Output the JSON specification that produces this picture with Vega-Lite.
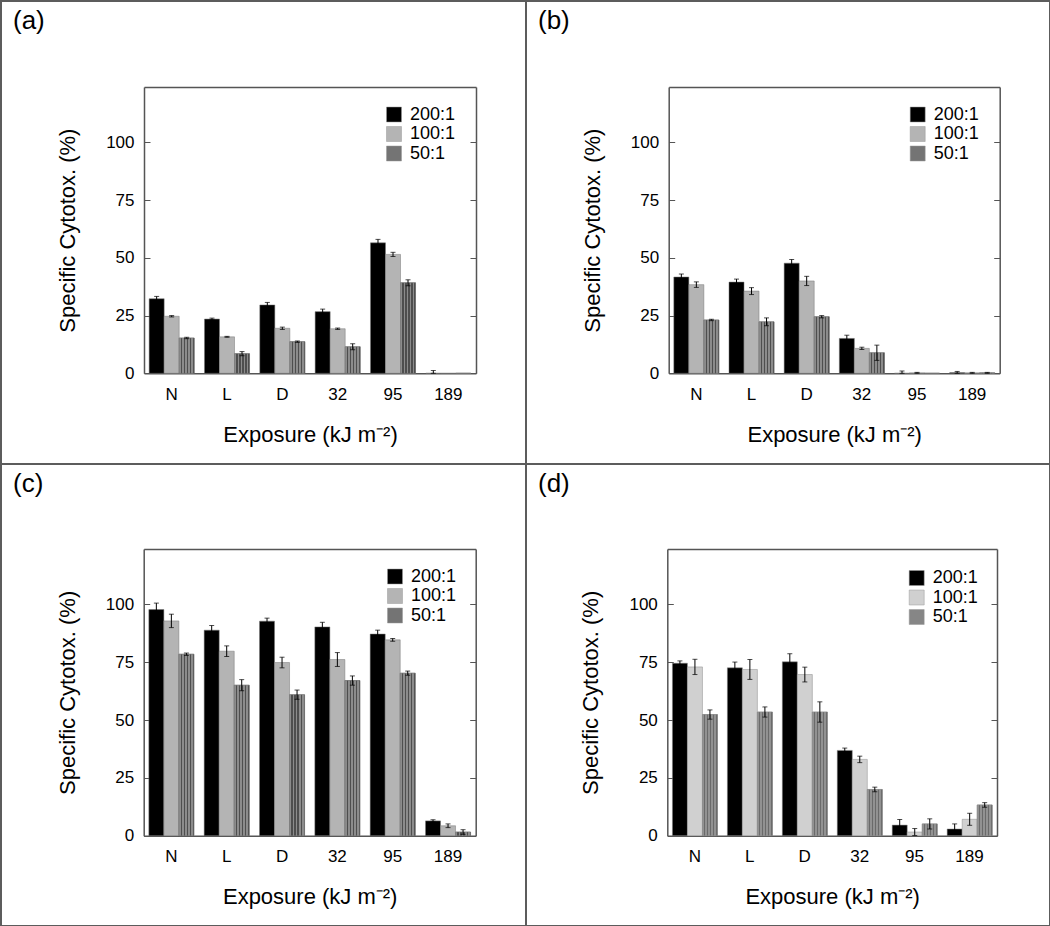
{
  "$schema": "https://vega.github.io/schema/vega-lite/v6.json",
  "padding": 0,
  "columns": 2,
  "spacing": 0,
  "bounds": "flush",
  "resolve": {"scale": {"fill": "independent"}, "legend": {"fill": "independent"}},
  "config": {
    "font": "Liberation Sans",
    "view": {"stroke": "#5c5c5c", "strokeWidth": 2},
    "axis": {"grid": false, "domainColor": "#555555", "domainWidth": 1.5, "tickColor": "#555555", "tickWidth": 1, "labelFontSize": 17, "labelColor": "#000000", "titleFontSize": 22, "titleFontWeight": "normal", "titleColor": "#000000", "labelAngle": 0},
    "title": {"anchor": "start", "frame": "group", "offset": -33, "dx": 12, "fontSize": 26, "fontWeight": "normal", "color": "#000000"},
    "legend": {"title": null, "symbolType": "square", "symbolSize": 225, "labelFontSize": 18, "labelColor": "#000000", "labelOffset": 7, "rowPadding": 1.5, "padding": 0, "symbolStrokeColor": "#999999", "symbolStrokeWidth": 0.5}
  },
  "datasets": {
    "a": [
      {"exposure": "N", "ratio": "200:1", "value": 32.3, "lo": 31.3, "hi": 33.3},
      {"exposure": "N", "ratio": "100:1", "value": 24.7, "lo": 24.4, "hi": 25.0},
      {"exposure": "N", "ratio": "50:1", "value": 15.3, "lo": 15.0, "hi": 15.6},
      {"exposure": "L", "ratio": "200:1", "value": 23.5, "lo": 23.1, "hi": 23.9},
      {"exposure": "L", "ratio": "100:1", "value": 15.8, "lo": 15.6, "hi": 16.0},
      {"exposure": "L", "ratio": "50:1", "value": 8.5, "lo": 7.6, "hi": 9.4},
      {"exposure": "D", "ratio": "200:1", "value": 29.6, "lo": 28.5, "hi": 30.7},
      {"exposure": "D", "ratio": "100:1", "value": 19.5, "lo": 19.0, "hi": 20.0},
      {"exposure": "D", "ratio": "50:1", "value": 13.7, "lo": 13.4, "hi": 14.0},
      {"exposure": "32", "ratio": "200:1", "value": 26.7, "lo": 25.6, "hi": 27.8},
      {"exposure": "32", "ratio": "100:1", "value": 19.3, "lo": 19.0, "hi": 19.6},
      {"exposure": "32", "ratio": "50:1", "value": 11.5, "lo": 10.2, "hi": 12.8},
      {"exposure": "95", "ratio": "200:1", "value": 56.5, "lo": 55.0, "hi": 58.0},
      {"exposure": "95", "ratio": "100:1", "value": 51.5, "lo": 50.6, "hi": 52.4},
      {"exposure": "95", "ratio": "50:1", "value": 39.2, "lo": 37.9, "hi": 40.5},
      {"exposure": "189", "ratio": "200:1", "value": 0.0, "lo": 0.0, "hi": 1.2},
      {"exposure": "189", "ratio": "100:1", "value": 0.0, "lo": null, "hi": null},
      {"exposure": "189", "ratio": "50:1", "value": 0.0, "lo": null, "hi": null}
    ],
    "b": [
      {"exposure": "N", "ratio": "200:1", "value": 41.7, "lo": 40.4, "hi": 43.0},
      {"exposure": "N", "ratio": "100:1", "value": 38.4, "lo": 37.2, "hi": 39.6},
      {"exposure": "N", "ratio": "50:1", "value": 23.1, "lo": 22.8, "hi": 23.4},
      {"exposure": "L", "ratio": "200:1", "value": 39.5, "lo": 38.2, "hi": 40.8},
      {"exposure": "L", "ratio": "100:1", "value": 35.6, "lo": 34.1, "hi": 37.1},
      {"exposure": "L", "ratio": "50:1", "value": 22.3, "lo": 20.6, "hi": 24.0},
      {"exposure": "D", "ratio": "200:1", "value": 47.7, "lo": 46.1, "hi": 49.3},
      {"exposure": "D", "ratio": "100:1", "value": 40.0, "lo": 38.0, "hi": 42.0},
      {"exposure": "D", "ratio": "50:1", "value": 24.5, "lo": 24.0, "hi": 25.0},
      {"exposure": "32", "ratio": "200:1", "value": 15.1, "lo": 13.7, "hi": 16.5},
      {"exposure": "32", "ratio": "100:1", "value": 10.8, "lo": 10.3, "hi": 11.3},
      {"exposure": "32", "ratio": "50:1", "value": 8.9, "lo": 5.6, "hi": 12.2},
      {"exposure": "95", "ratio": "200:1", "value": 0.0, "lo": 0.0, "hi": 1.0},
      {"exposure": "95", "ratio": "100:1", "value": 0.2, "lo": 0.0, "hi": 0.4},
      {"exposure": "95", "ratio": "50:1", "value": 0.0, "lo": null, "hi": null},
      {"exposure": "189", "ratio": "200:1", "value": 0.3, "lo": 0.0, "hi": 0.8},
      {"exposure": "189", "ratio": "100:1", "value": 0.2, "lo": 0.0, "hi": 0.4},
      {"exposure": "189", "ratio": "50:1", "value": 0.2, "lo": 0.0, "hi": 0.4}
    ],
    "c": [
      {"exposure": "N", "ratio": "200:1", "value": 97.8, "lo": 95.0, "hi": 100.6},
      {"exposure": "N", "ratio": "100:1", "value": 92.9, "lo": 90.0, "hi": 95.8},
      {"exposure": "N", "ratio": "50:1", "value": 78.5, "lo": 78.0, "hi": 79.0},
      {"exposure": "L", "ratio": "200:1", "value": 88.9, "lo": 86.9, "hi": 90.9},
      {"exposure": "L", "ratio": "100:1", "value": 79.8, "lo": 77.5, "hi": 82.1},
      {"exposure": "L", "ratio": "50:1", "value": 65.1, "lo": 62.7, "hi": 67.5},
      {"exposure": "D", "ratio": "200:1", "value": 92.8, "lo": 91.5, "hi": 94.1},
      {"exposure": "D", "ratio": "100:1", "value": 74.9, "lo": 72.6, "hi": 77.2},
      {"exposure": "D", "ratio": "50:1", "value": 61.0, "lo": 59.0, "hi": 63.0},
      {"exposure": "32", "ratio": "200:1", "value": 90.3, "lo": 88.3, "hi": 92.3},
      {"exposure": "32", "ratio": "100:1", "value": 76.2, "lo": 73.2, "hi": 79.2},
      {"exposure": "32", "ratio": "50:1", "value": 67.1, "lo": 65.1, "hi": 69.1},
      {"exposure": "95", "ratio": "200:1", "value": 87.2, "lo": 85.5, "hi": 88.9},
      {"exposure": "95", "ratio": "100:1", "value": 84.7, "lo": 84.1, "hi": 85.3},
      {"exposure": "95", "ratio": "50:1", "value": 70.3, "lo": 69.4, "hi": 71.2},
      {"exposure": "189", "ratio": "200:1", "value": 6.4, "lo": 5.9, "hi": 6.9},
      {"exposure": "189", "ratio": "100:1", "value": 4.3, "lo": 3.5, "hi": 5.1},
      {"exposure": "189", "ratio": "50:1", "value": 1.6, "lo": 0.6, "hi": 2.6}
    ],
    "d": [
      {"exposure": "N", "ratio": "200:1", "value": 74.6, "lo": 73.6, "hi": 75.6},
      {"exposure": "N", "ratio": "100:1", "value": 73.0, "lo": 69.7, "hi": 76.3},
      {"exposure": "N", "ratio": "50:1", "value": 52.4, "lo": 50.4, "hi": 54.4},
      {"exposure": "L", "ratio": "200:1", "value": 72.6, "lo": 70.1, "hi": 75.1},
      {"exposure": "L", "ratio": "100:1", "value": 71.9, "lo": 67.6, "hi": 76.2},
      {"exposure": "L", "ratio": "50:1", "value": 53.5, "lo": 51.3, "hi": 55.7},
      {"exposure": "D", "ratio": "200:1", "value": 75.2, "lo": 71.7, "hi": 78.7},
      {"exposure": "D", "ratio": "100:1", "value": 69.7, "lo": 66.5, "hi": 72.9},
      {"exposure": "D", "ratio": "50:1", "value": 53.5, "lo": 49.1, "hi": 57.9},
      {"exposure": "32", "ratio": "200:1", "value": 36.9, "lo": 35.9, "hi": 37.9},
      {"exposure": "32", "ratio": "100:1", "value": 33.0, "lo": 31.6, "hi": 34.4},
      {"exposure": "32", "ratio": "50:1", "value": 20.0, "lo": 19.0, "hi": 21.0},
      {"exposure": "95", "ratio": "200:1", "value": 4.6, "lo": 2.2, "hi": 7.0},
      {"exposure": "95", "ratio": "100:1", "value": 1.6, "lo": 0.1, "hi": 3.1},
      {"exposure": "95", "ratio": "50:1", "value": 5.1, "lo": 2.9, "hi": 7.3},
      {"exposure": "189", "ratio": "200:1", "value": 2.9, "lo": 0.7, "hi": 5.1},
      {"exposure": "189", "ratio": "100:1", "value": 7.1, "lo": 4.5, "hi": 9.7},
      {"exposure": "189", "ratio": "50:1", "value": 13.3, "lo": 12.3, "hi": 14.3}
    ]
  },
  "concat": [
    {
      "width": 525, "height": 463,
      "title": {"text": "(a)"},
      "data": {"name": "a"},
      "layer": [
        {"mark": {"type": "bar", "stroke": "#777777", "strokeWidth": 0.5},
         "encoding": {
           "x": {"field": "exposure", "type": "nominal", "sort": ["N", "L", "D", "32", "95", "189"], "scale": {"range": [143, 475], "paddingInner": 0.186, "paddingOuter": 0.093}, "axis": {"orient": "bottom", "offset": -90.7, "ticks": false, "labelPadding": 13, "titlePadding": 22, "title": "Exposure (kJ m⁻²)"}},
           "xOffset": {"field": "ratio", "type": "nominal", "sort": ["200:1", "100:1", "50:1"], "scale": {"domain": ["200:1", "100:1", "50:1"]}},
           "y": {"field": "value", "type": "quantitative", "scale": {"domain": [0, 124], "range": [372.3, 86], "nice": false}, "axis": {"orient": "left", "offset": -143, "values": [0, 25, 50, 75, 100], "tickSize": -6, "labelPadding": 16, "titlePadding": 26, "title": "Specific Cytotox. (%)"}},
           "fill": {"field": "ratio", "type": "nominal", "sort": ["200:1", "100:1", "50:1"], "scale": {"domain": ["200:1", "100:1", "50:1"], "range": ["#000000", "#b4b4b4", "#747474"]}, "legend": {"orient": "none", "legendX": 384, "legendY": 104.5}}
         }},
        {"transform": [{"filter": "datum.ratio == '50:1'"}],
         "mark": {"type": "bar", "stroke": "#777777", "strokeWidth": 0.5, "fill": {"gradient": "linear", "x1": 0, "y1": 0, "x2": 1, "y2": 0, "stops": [
           {"offset": 0, "color": "#8c8c8c"}, {"offset": 0.13, "color": "#8c8c8c"}, {"offset": 0.13, "color": "#4e4e4e"}, {"offset": 0.2, "color": "#4e4e4e"},
           {"offset": 0.2, "color": "#8c8c8c"}, {"offset": 0.33, "color": "#8c8c8c"}, {"offset": 0.33, "color": "#4e4e4e"}, {"offset": 0.4, "color": "#4e4e4e"},
           {"offset": 0.4, "color": "#8c8c8c"}, {"offset": 0.53, "color": "#8c8c8c"}, {"offset": 0.53, "color": "#4e4e4e"}, {"offset": 0.6, "color": "#4e4e4e"},
           {"offset": 0.6, "color": "#8c8c8c"}, {"offset": 0.73, "color": "#8c8c8c"}, {"offset": 0.73, "color": "#4e4e4e"}, {"offset": 0.8, "color": "#4e4e4e"},
           {"offset": 0.8, "color": "#8c8c8c"}, {"offset": 0.93, "color": "#8c8c8c"}, {"offset": 0.93, "color": "#4e4e4e"}, {"offset": 1, "color": "#4e4e4e"}]}},
         "encoding": {
           "x": {"field": "exposure", "type": "nominal", "sort": ["N", "L", "D", "32", "95", "189"], "axis": null},
           "xOffset": {"field": "ratio", "type": "nominal", "sort": ["200:1", "100:1", "50:1"]},
           "y": {"field": "value", "type": "quantitative", "axis": null}
         }},
        {"mark": {"type": "rule", "color": "#000000", "strokeWidth": 1},
         "encoding": {
           "x": {"field": "exposure", "type": "nominal", "sort": ["N", "L", "D", "32", "95", "189"], "axis": {"orient": "top", "offset": -86, "labels": false, "ticks": false, "title": null}},
           "xOffset": {"field": "ratio", "type": "nominal", "sort": ["200:1", "100:1", "50:1"]},
           "y": {"field": "lo", "type": "quantitative", "axis": {"orient": "right", "offset": -50, "labels": false, "tickSize": -6, "values": [0, 25, 50, 75, 100], "title": null}},
           "y2": {"field": "hi"}
         }},
        {"mark": {"type": "tick", "color": "#000000", "size": 5, "thickness": 1},
         "encoding": {
           "x": {"field": "exposure", "type": "nominal", "sort": ["N", "L", "D", "32", "95", "189"], "axis": null},
           "xOffset": {"field": "ratio", "type": "nominal", "sort": ["200:1", "100:1", "50:1"]},
           "y": {"field": "lo", "type": "quantitative", "axis": null}
         }},
        {"mark": {"type": "tick", "color": "#000000", "size": 5, "thickness": 1},
         "encoding": {
           "x": {"field": "exposure", "type": "nominal", "sort": ["N", "L", "D", "32", "95", "189"], "axis": null},
           "xOffset": {"field": "ratio", "type": "nominal", "sort": ["200:1", "100:1", "50:1"]},
           "y": {"field": "hi", "type": "quantitative", "axis": null}
         }}
      ],
      "resolve": {"axis": {"x": "independent", "y": "independent"}}
    },
    {
      "width": 524, "height": 463,
      "title": {"text": "(b)"},
      "data": {"name": "b"},
      "layer": [
        {"mark": {"type": "bar", "stroke": "#777777", "strokeWidth": 0.5},
         "encoding": {
           "x": {"field": "exposure", "type": "nominal", "sort": ["N", "L", "D", "32", "95", "189"], "scale": {"range": [142.7, 473.7], "paddingInner": 0.186, "paddingOuter": 0.093}, "axis": {"orient": "bottom", "offset": -90.7, "ticks": false, "labelPadding": 13, "titlePadding": 22, "title": "Exposure (kJ m⁻²)"}},
           "xOffset": {"field": "ratio", "type": "nominal", "sort": ["200:1", "100:1", "50:1"], "scale": {"domain": ["200:1", "100:1", "50:1"]}},
           "y": {"field": "value", "type": "quantitative", "scale": {"domain": [0, 124], "range": [372.3, 86], "nice": false}, "axis": {"orient": "left", "offset": -142.7, "values": [0, 25, 50, 75, 100], "tickSize": -6, "labelPadding": 16, "titlePadding": 26, "title": "Specific Cytotox. (%)"}},
           "fill": {"field": "ratio", "type": "nominal", "sort": ["200:1", "100:1", "50:1"], "scale": {"domain": ["200:1", "100:1", "50:1"], "range": ["#000000", "#b4b4b4", "#747474"]}, "legend": {"orient": "none", "legendX": 382.7, "legendY": 104.5}}
         }},
        {"transform": [{"filter": "datum.ratio == '50:1'"}],
         "mark": {"type": "bar", "stroke": "#777777", "strokeWidth": 0.5, "fill": {"gradient": "linear", "x1": 0, "y1": 0, "x2": 1, "y2": 0, "stops": [
           {"offset": 0, "color": "#8c8c8c"}, {"offset": 0.13, "color": "#8c8c8c"}, {"offset": 0.13, "color": "#4e4e4e"}, {"offset": 0.2, "color": "#4e4e4e"},
           {"offset": 0.2, "color": "#8c8c8c"}, {"offset": 0.33, "color": "#8c8c8c"}, {"offset": 0.33, "color": "#4e4e4e"}, {"offset": 0.4, "color": "#4e4e4e"},
           {"offset": 0.4, "color": "#8c8c8c"}, {"offset": 0.53, "color": "#8c8c8c"}, {"offset": 0.53, "color": "#4e4e4e"}, {"offset": 0.6, "color": "#4e4e4e"},
           {"offset": 0.6, "color": "#8c8c8c"}, {"offset": 0.73, "color": "#8c8c8c"}, {"offset": 0.73, "color": "#4e4e4e"}, {"offset": 0.8, "color": "#4e4e4e"},
           {"offset": 0.8, "color": "#8c8c8c"}, {"offset": 0.93, "color": "#8c8c8c"}, {"offset": 0.93, "color": "#4e4e4e"}, {"offset": 1, "color": "#4e4e4e"}]}},
         "encoding": {
           "x": {"field": "exposure", "type": "nominal", "sort": ["N", "L", "D", "32", "95", "189"], "axis": null},
           "xOffset": {"field": "ratio", "type": "nominal", "sort": ["200:1", "100:1", "50:1"]},
           "y": {"field": "value", "type": "quantitative", "axis": null}
         }},
        {"mark": {"type": "rule", "color": "#000000", "strokeWidth": 1},
         "encoding": {
           "x": {"field": "exposure", "type": "nominal", "sort": ["N", "L", "D", "32", "95", "189"], "axis": {"orient": "top", "offset": -86, "labels": false, "ticks": false, "title": null}},
           "xOffset": {"field": "ratio", "type": "nominal", "sort": ["200:1", "100:1", "50:1"]},
           "y": {"field": "lo", "type": "quantitative", "axis": {"orient": "right", "offset": -50.3, "labels": false, "tickSize": -6, "values": [0, 25, 50, 75, 100], "title": null}},
           "y2": {"field": "hi"}
         }},
        {"mark": {"type": "tick", "color": "#000000", "size": 5, "thickness": 1},
         "encoding": {
           "x": {"field": "exposure", "type": "nominal", "sort": ["N", "L", "D", "32", "95", "189"], "axis": null},
           "xOffset": {"field": "ratio", "type": "nominal", "sort": ["200:1", "100:1", "50:1"]},
           "y": {"field": "lo", "type": "quantitative", "axis": null}
         }},
        {"mark": {"type": "tick", "color": "#000000", "size": 5, "thickness": 1},
         "encoding": {
           "x": {"field": "exposure", "type": "nominal", "sort": ["N", "L", "D", "32", "95", "189"], "axis": null},
           "xOffset": {"field": "ratio", "type": "nominal", "sort": ["200:1", "100:1", "50:1"]},
           "y": {"field": "hi", "type": "quantitative", "axis": null}
         }}
      ],
      "resolve": {"axis": {"x": "independent", "y": "independent"}}
    },
    {
      "width": 525, "height": 462,
      "title": {"text": "(c)"},
      "data": {"name": "c"},
      "layer": [
        {"mark": {"type": "bar", "stroke": "#777777", "strokeWidth": 0.5},
         "encoding": {
           "x": {"field": "exposure", "type": "nominal", "sort": ["N", "L", "D", "32", "95", "189"], "scale": {"range": [142.7, 474.7], "paddingInner": 0.186, "paddingOuter": 0.093}, "axis": {"orient": "bottom", "offset": -90.3, "ticks": false, "labelPadding": 13, "titlePadding": 22, "title": "Exposure (kJ m⁻²)"}},
           "xOffset": {"field": "ratio", "type": "nominal", "sort": ["200:1", "100:1", "50:1"], "scale": {"domain": ["200:1", "100:1", "50:1"]}},
           "y": {"field": "value", "type": "quantitative", "scale": {"domain": [0, 124], "range": [371.7, 85], "nice": false}, "axis": {"orient": "left", "offset": -142.7, "values": [0, 25, 50, 75, 100], "tickSize": -6, "labelPadding": 16, "titlePadding": 26, "title": "Specific Cytotox. (%)"}},
           "fill": {"field": "ratio", "type": "nominal", "sort": ["200:1", "100:1", "50:1"], "scale": {"domain": ["200:1", "100:1", "50:1"], "range": ["#000000", "#b4b4b4", "#747474"]}, "legend": {"orient": "none", "legendX": 385, "legendY": 103.5}}
         }},
        {"transform": [{"filter": "datum.ratio == '50:1'"}],
         "mark": {"type": "bar", "stroke": "#777777", "strokeWidth": 0.5, "fill": {"gradient": "linear", "x1": 0, "y1": 0, "x2": 1, "y2": 0, "stops": [
           {"offset": 0, "color": "#8c8c8c"}, {"offset": 0.13, "color": "#8c8c8c"}, {"offset": 0.13, "color": "#4e4e4e"}, {"offset": 0.2, "color": "#4e4e4e"},
           {"offset": 0.2, "color": "#8c8c8c"}, {"offset": 0.33, "color": "#8c8c8c"}, {"offset": 0.33, "color": "#4e4e4e"}, {"offset": 0.4, "color": "#4e4e4e"},
           {"offset": 0.4, "color": "#8c8c8c"}, {"offset": 0.53, "color": "#8c8c8c"}, {"offset": 0.53, "color": "#4e4e4e"}, {"offset": 0.6, "color": "#4e4e4e"},
           {"offset": 0.6, "color": "#8c8c8c"}, {"offset": 0.73, "color": "#8c8c8c"}, {"offset": 0.73, "color": "#4e4e4e"}, {"offset": 0.8, "color": "#4e4e4e"},
           {"offset": 0.8, "color": "#8c8c8c"}, {"offset": 0.93, "color": "#8c8c8c"}, {"offset": 0.93, "color": "#4e4e4e"}, {"offset": 1, "color": "#4e4e4e"}]}},
         "encoding": {
           "x": {"field": "exposure", "type": "nominal", "sort": ["N", "L", "D", "32", "95", "189"], "axis": null},
           "xOffset": {"field": "ratio", "type": "nominal", "sort": ["200:1", "100:1", "50:1"]},
           "y": {"field": "value", "type": "quantitative", "axis": null}
         }},
        {"mark": {"type": "rule", "color": "#000000", "strokeWidth": 1},
         "encoding": {
           "x": {"field": "exposure", "type": "nominal", "sort": ["N", "L", "D", "32", "95", "189"], "axis": {"orient": "top", "offset": -85, "labels": false, "ticks": false, "title": null}},
           "xOffset": {"field": "ratio", "type": "nominal", "sort": ["200:1", "100:1", "50:1"]},
           "y": {"field": "lo", "type": "quantitative", "axis": {"orient": "right", "offset": -50.3, "labels": false, "tickSize": -6, "values": [0, 25, 50, 75, 100], "title": null}},
           "y2": {"field": "hi"}
         }},
        {"mark": {"type": "tick", "color": "#000000", "size": 5, "thickness": 1},
         "encoding": {
           "x": {"field": "exposure", "type": "nominal", "sort": ["N", "L", "D", "32", "95", "189"], "axis": null},
           "xOffset": {"field": "ratio", "type": "nominal", "sort": ["200:1", "100:1", "50:1"]},
           "y": {"field": "lo", "type": "quantitative", "axis": null}
         }},
        {"mark": {"type": "tick", "color": "#000000", "size": 5, "thickness": 1},
         "encoding": {
           "x": {"field": "exposure", "type": "nominal", "sort": ["N", "L", "D", "32", "95", "189"], "axis": null},
           "xOffset": {"field": "ratio", "type": "nominal", "sort": ["200:1", "100:1", "50:1"]},
           "y": {"field": "hi", "type": "quantitative", "axis": null}
         }}
      ],
      "resolve": {"axis": {"x": "independent", "y": "independent"}}
    },
    {
      "width": 524, "height": 462,
      "title": {"text": "(d)"},
      "data": {"name": "d"},
      "layer": [
        {"mark": {"type": "bar", "stroke": "#8a8a8a", "strokeWidth": 0.5},
         "encoding": {
           "x": {"field": "exposure", "type": "nominal", "sort": ["N", "L", "D", "32", "95", "189"], "scale": {"range": [141.3, 471], "paddingInner": 0.186, "paddingOuter": 0.093}, "axis": {"orient": "bottom", "offset": -90.3, "ticks": false, "labelPadding": 13, "titlePadding": 22, "title": "Exposure (kJ m⁻²)"}},
           "xOffset": {"field": "ratio", "type": "nominal", "sort": ["200:1", "100:1", "50:1"], "scale": {"domain": ["200:1", "100:1", "50:1"]}},
           "y": {"field": "value", "type": "quantitative", "scale": {"domain": [0, 124], "range": [371.7, 85], "nice": false}, "axis": {"orient": "left", "offset": -141.3, "values": [0, 25, 50, 75, 100], "tickSize": -6, "labelPadding": 16, "titlePadding": 26, "title": "Specific Cytotox. (%)"}},
           "fill": {"field": "ratio", "type": "nominal", "sort": ["200:1", "100:1", "50:1"], "scale": {"domain": ["200:1", "100:1", "50:1"], "range": ["#000000", "#d0d0d0", "#868686"]}, "legend": {"orient": "none", "legendX": 381.7, "legendY": 105}}
         }},
        {"transform": [{"filter": "datum.ratio == '50:1'"}],
         "mark": {"type": "bar", "stroke": "#8a8a8a", "strokeWidth": 0.5, "fill": {"gradient": "linear", "x1": 0, "y1": 0, "x2": 1, "y2": 0, "stops": [
           {"offset": 0, "color": "#929292"}, {"offset": 0.13, "color": "#929292"}, {"offset": 0.13, "color": "#6a6a6a"}, {"offset": 0.2, "color": "#6a6a6a"},
           {"offset": 0.2, "color": "#929292"}, {"offset": 0.33, "color": "#929292"}, {"offset": 0.33, "color": "#6a6a6a"}, {"offset": 0.4, "color": "#6a6a6a"},
           {"offset": 0.4, "color": "#929292"}, {"offset": 0.53, "color": "#929292"}, {"offset": 0.53, "color": "#6a6a6a"}, {"offset": 0.6, "color": "#6a6a6a"},
           {"offset": 0.6, "color": "#929292"}, {"offset": 0.73, "color": "#929292"}, {"offset": 0.73, "color": "#6a6a6a"}, {"offset": 0.8, "color": "#6a6a6a"},
           {"offset": 0.8, "color": "#929292"}, {"offset": 0.93, "color": "#929292"}, {"offset": 0.93, "color": "#6a6a6a"}, {"offset": 1, "color": "#6a6a6a"}]}},
         "encoding": {
           "x": {"field": "exposure", "type": "nominal", "sort": ["N", "L", "D", "32", "95", "189"], "axis": null},
           "xOffset": {"field": "ratio", "type": "nominal", "sort": ["200:1", "100:1", "50:1"]},
           "y": {"field": "value", "type": "quantitative", "axis": null}
         }},
        {"mark": {"type": "rule", "color": "#000000", "strokeWidth": 1},
         "encoding": {
           "x": {"field": "exposure", "type": "nominal", "sort": ["N", "L", "D", "32", "95", "189"], "axis": {"orient": "top", "offset": -85, "labels": false, "ticks": false, "title": null}},
           "xOffset": {"field": "ratio", "type": "nominal", "sort": ["200:1", "100:1", "50:1"]},
           "y": {"field": "lo", "type": "quantitative", "axis": {"orient": "right", "offset": -53, "labels": false, "tickSize": -6, "values": [0, 25, 50, 75, 100], "title": null}},
           "y2": {"field": "hi"}
         }},
        {"mark": {"type": "tick", "color": "#000000", "size": 5, "thickness": 1},
         "encoding": {
           "x": {"field": "exposure", "type": "nominal", "sort": ["N", "L", "D", "32", "95", "189"], "axis": null},
           "xOffset": {"field": "ratio", "type": "nominal", "sort": ["200:1", "100:1", "50:1"]},
           "y": {"field": "lo", "type": "quantitative", "axis": null}
         }},
        {"mark": {"type": "tick", "color": "#000000", "size": 5, "thickness": 1},
         "encoding": {
           "x": {"field": "exposure", "type": "nominal", "sort": ["N", "L", "D", "32", "95", "189"], "axis": null},
           "xOffset": {"field": "ratio", "type": "nominal", "sort": ["200:1", "100:1", "50:1"]},
           "y": {"field": "hi", "type": "quantitative", "axis": null}
         }}
      ],
      "resolve": {"axis": {"x": "independent", "y": "independent"}}
    }
  ]
}
